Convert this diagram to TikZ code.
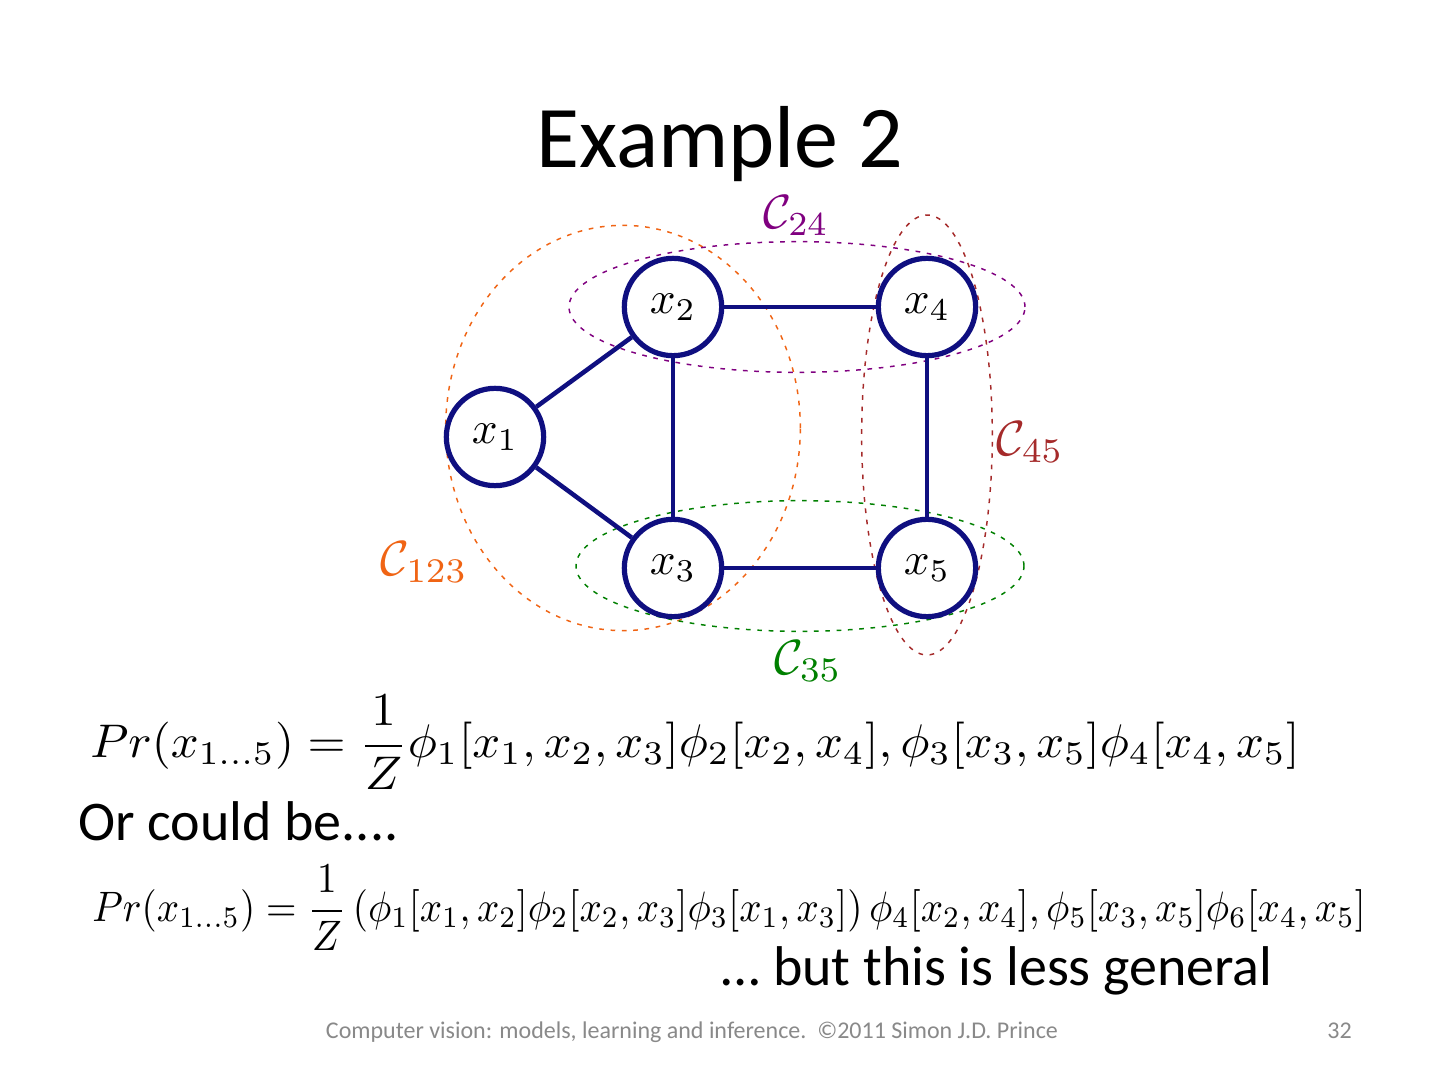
\documentclass[tikz,border=0pt]{standalone}
\usepackage{amsmath}
\usepackage{graphicx}
\usepackage{fontspec}
\setmainfont{Carlito}
\definecolor{navy}{RGB}{15,15,128}
\definecolor{corange}{RGB}{240,100,20}
\definecolor{cpurple}{RGB}{128,0,128}
\definecolor{cred}{RGB}{165,42,42}
\definecolor{cgreen}{RGB}{0,128,0}
\definecolor{footgray}{RGB}{137,137,137}
\newcommand\mybigmath[2]{\scalebox{#1}{$#2$}}
\tikzset{
  var/.style={circle,draw=navy,line width=3.9pt,minimum size=73pt,inner sep=0pt,fill=white},
  edge/.style={draw=navy,line width=3.4pt},
  clique/.style={line width=1.1pt,dash pattern=on 3.5pt off 5pt},
  clabel/.style={inner sep=0pt},
  txt/.style={inner sep=0pt,anchor=base west}
}
\begin{document}
\begin{tikzpicture}[x=0.75pt,y=-0.75pt]
\useasboundingbox[fill=white] (0,0) rectangle (1440,1080);
% title
\node[inner sep=0pt,anchor=base,font=\fontsize{66}{70}\selectfont] (title) at (720,168) {Example 2};
% clique outlines
\draw[clique,corange] (623,428) ellipse [x radius=133pt,y radius=152pt];
\draw[clique,cpurple] (797,307) ellipse [x radius=171pt,y radius=49pt];
\draw[clique,cgreen] (800,566) ellipse [x radius=168pt,y radius=49pt];
\draw[clique,cred] (927,435) ellipse [x radius=49pt,y radius=165pt];
% variables
\node[var] (x1) at (495,437) {\mybigmath{3.4}{x_1}};
\node[var] (x2) at (673,307) {\mybigmath{3.4}{x_2}};
\node[var] (x4) at (927,307) {\mybigmath{3.4}{x_4}};
\node[var] (x3) at (673,568) {\mybigmath{3.4}{x_3}};
\node[var] (x5) at (927,568) {\mybigmath{3.4}{x_5}};
\draw[edge] (x1) -- (x2);
\draw[edge] (x1) -- (x3);
\draw[edge] (x2) -- (x3);
\draw[edge] (x2) -- (x4);
\draw[edge] (x4) -- (x5);
\draw[edge] (x3) -- (x5);
% clique labels
\node[clabel,text=cpurple] (l24) at (796,216) {\mybigmath{3.6}{\mathcal{C}_{24}}};
\node[clabel,text=cred] (l45) at (1030,442) {\mybigmath{3.7}{\mathcal{C}_{45}}};
\node[clabel,text=corange] (l123) at (424,562) {\mybigmath{3.7}{\mathcal{C}_{123}}};
\node[clabel,text=cgreen] (l35) at (808,661) {\mybigmath{3.7}{\mathcal{C}_{35}}};
% equations
\node[inner sep=0pt,anchor=north west] (eq1) at (90,695) {\resizebox*{907pt}{71pt}{$\displaystyle Pr(x_{1\ldots5})=\frac{1}{Z}\phi_1[x_1,x_2,x_3]\phi_2[x_2,x_4],\phi_3[x_3,x_5]\phi_4[x_4,x_5]$}};
\node[txt,font=\fontsize{42}{48}\selectfont] (or) at (78,840) {Or could be....};
\node[inner sep=0pt,anchor=north west] (eq2) at (92,865) {\resizebox*{955pt}{64pt}{$\displaystyle Pr(x_{1\ldots5})=\frac{1}{Z}\left(\phi_1[x_1,x_2]\phi_2[x_2,x_3]\phi_3[x_1,x_3]\right)\phi_4[x_2,x_4],\phi_5[x_3,x_5]\phi_6[x_4,x_5]$}};
\node[inner sep=0pt,anchor=base east,font=\fontsize{42}{48}\selectfont] (less) at (1273,985) {… but this is less general};
% footer
\node[inner sep=0pt,anchor=base,font=\fontsize{18}{22}\selectfont,text=footgray] (foot) at (692,1038) {Computer vision: models, learning and inference.\ \ ©2011 Simon J.D. Prince};
\node[inner sep=0pt,anchor=base east,font=\fontsize{18}{22}\selectfont,text=footgray] (page) at (1352,1038) {32};
\end{tikzpicture}
\end{document}
